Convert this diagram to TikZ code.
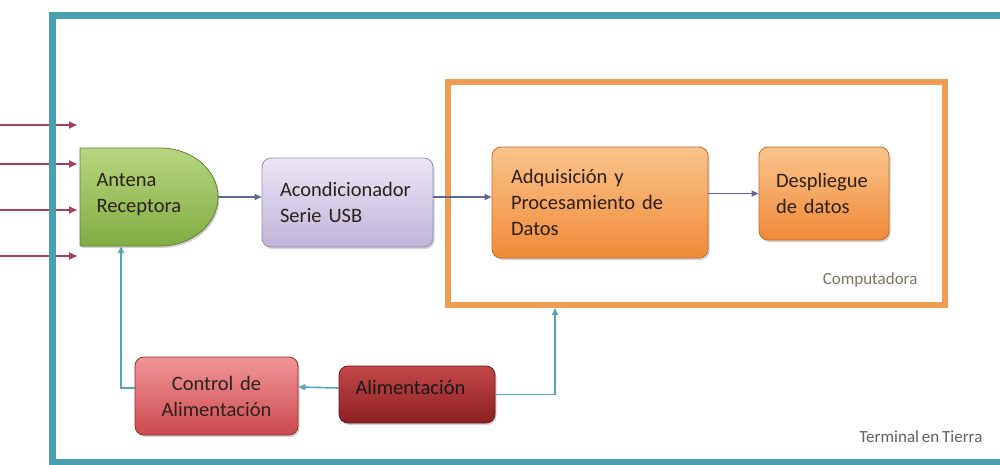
\documentclass[tikz,border=0pt]{standalone}
\usepackage{fontspec}
\setmainfont{Carlito}[WordSpace=0.75]
\usetikzlibrary{arrows.meta,shadows,fit}

% palette
\definecolor{frameteal}{RGB}{72,160,176}
\definecolor{compframe}{RGB}{238,158,82}
\definecolor{inred}{RGB}{170,62,88}
\definecolor{sigline}{RGB}{96,104,146}
\definecolor{pwline}{RGB}{86,164,180}
\definecolor{greenT}{RGB}{184,214,128}
\definecolor{greenB}{RGB}{128,172,66}
\definecolor{greenD}{RGB}{96,132,48}
\definecolor{lavT}{RGB}{236,230,246}
\definecolor{lavB}{RGB}{192,180,218}
\definecolor{lavD}{RGB}{150,140,184}
\definecolor{orT}{RGB}{250,196,140}
\definecolor{orB}{RGB}{240,138,56}
\definecolor{orD}{RGB}{196,108,40}
\definecolor{ctlT}{RGB}{240,150,152}
\definecolor{ctlB}{RGB}{204,74,80}
\definecolor{ctlD}{RGB}{150,42,48}
\definecolor{alT}{RGB}{196,72,72}
\definecolor{alB}{RGB}{140,32,34}
\definecolor{alD}{RGB}{104,24,26}
\definecolor{inktxt}{RGB}{44,32,24}
\definecolor{comptxt}{RGB}{130,116,96}

\tikzset{
  block/.style={rounded corners=9pt, line width=0.8pt, inner xsep=18pt,
    font=\fontsize{20.5}{26}\selectfont, text=inktxt, align=left,
    drop shadow={opacity=0.35, shadow xshift=1.5pt, shadow yshift=-2pt}},
  lbl/.style={font=\fontsize{20.5}{26}\selectfont, text=inktxt, align=left},
  caption/.style={font=\fontsize{17}{20}\selectfont},
  sig/.style={draw=sigline, line width=1.2pt, -{Triangle[length=7pt,width=6pt]}},
  pw/.style={draw=pwline, line width=1.6pt, -{Triangle[length=7pt,width=6pt]}},
  inarrow/.style={draw=inred, line width=1.8pt, -{Triangle[length=8pt,width=7pt]}}
}

\begin{document}
\begin{tikzpicture}[x=1pt,y=-1pt]
\useasboundingbox (0,0) rectangle (1000,464);
\fill[white] (0,0) rectangle (1000,464);

% incoming signals
\foreach \yy [count=\i] in {125,164,210,256} {
  \coordinate (inS\i) at (0,\yy);
  \coordinate (inE\i) at (77,\yy);
  \draw[inarrow] (inS\i) -- (inE\i);
}

% ground terminal frame
\draw[frameteal, line width=7pt] (52,15) rectangle (1004,462);
\node[caption, text=black!62, anchor=east] (terminal) at (986,437) {Terminal en Tierra};

% receiving antenna (delay-shaped block)
\path[draw=greenD, line width=0.8pt, top color=greenT, bottom color=greenB,
      drop shadow={opacity=0.35, shadow xshift=1.5pt, shadow yshift=-2pt}]
  (80,148) -- (160,148) arc[start angle=90, end angle=-90, x radius=58pt, y radius=49pt]
  -- (80,246) -- cycle;
\node[fit={(80,148) (218,246)}, inner sep=0pt] (ant) {};
\node[lbl, anchor=west] (anttxt) at (93,195) {Antena\\Receptora};

% serial/USB conditioner
\node[block, draw=lavD, top color=lavT, bottom color=lavB,
      text width=135pt, minimum height=89pt] (acond) at (347.5,202.5)
  {Acondicionador\\Serie USB};

% computer
\node[draw=compframe, line width=6pt, minimum width=497pt, minimum height=223pt]
  (comp) at (696.5,193.5) {};
\node[caption, text=comptxt, anchor=east] (comptxt) at (921,280) {Computadora};

\node[block, draw=orD, top color=orT, bottom color=orB, inner xsep=19pt,
      text width=178pt, minimum height=111pt] (adq) at (600,202.5)
  {Adquisición y\\Procesamiento de\\Datos};
\node[block, draw=orD, top color=orT, bottom color=orB, inner xsep=17pt,
      text width=96pt, minimum height=93pt] (desp) at (824,193.5)
  {Despliegue\\de datos};

% power section
\node[block, draw=ctlD, top color=ctlT, bottom color=ctlB, align=center,
      inner xsep=8pt, text width=147pt, minimum height=78pt] (ctrl) at (216.5,396)
  {Control de\\Alimentación};
\node[block, draw=alD, top color=alT, bottom color=alB,
      minimum width=156pt, minimum height=57pt] (alim) at (417,394.5) {};
\node[lbl, anchor=west, text=black!90] (alimtxt) at (352,387) {Alimentación};

% signal path
\draw[sig] (ant.east) -- (acond.west |- ant.east);
\draw[sig] (acond.east |- ant.east) -- (adq.west |- ant.east);
\draw[sig] (adq.east |- desp.west) -- (desp.west);

% power distribution
\coordinate (antpin) at (121,0);
\coordinate (comppin) at (555,0);
\draw[pw] ([yshift=6.5pt]alim.west) -- (ctrl.east |- alimtxt.west);
\draw[pw] ([yshift=8pt]ctrl.west) -| (antpin |- ant.south);
\draw[pw] (alim.east) -| (comppin |- comp.south);
\end{tikzpicture}
\end{document}
